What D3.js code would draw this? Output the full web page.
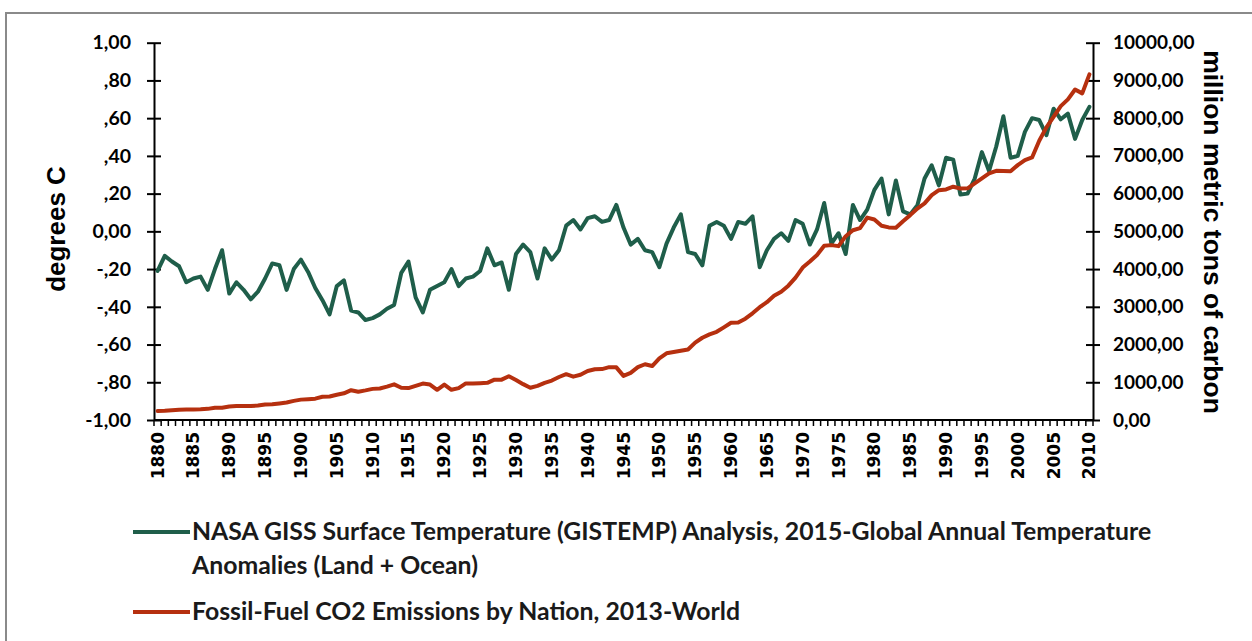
<!DOCTYPE html>
<html>
<head>
<meta charset="utf-8">
<script src="https://cdn.jsdelivr.net/npm/d3@7"></script>
<style>
  html, body { margin: 0; padding: 0; background: #fff; }
  svg { display: block; }
</style>
</head>
<body>
<svg id="chart" width="1252" height="641"></svg>
<script>
// ---------- DATA ----------
const firstYear = 1880;
const lastYear = 2010;
const years = d3.range(firstYear, lastYear + 1);

// NASA GISS annual temperature anomalies (°C), 1880..2010
const tempAnomaly = [
  -0.21, -0.13, -0.16, -0.185, -0.27, -0.25, -0.24, -0.31, -0.20, -0.10,
  -0.33, -0.27, -0.31, -0.36, -0.32, -0.25, -0.17, -0.18, -0.31, -0.20,
  -0.15, -0.215, -0.30, -0.365, -0.44, -0.29, -0.26, -0.42, -0.43, -0.47,
  -0.46, -0.44, -0.41, -0.39, -0.22, -0.16, -0.35, -0.43, -0.31, -0.29,
  -0.27, -0.20, -0.29, -0.25, -0.24, -0.21, -0.09, -0.18, -0.165, -0.31,
  -0.12, -0.07, -0.11, -0.25, -0.09, -0.15, -0.10, 0.03, 0.06, 0.01,
  0.07, 0.08, 0.05, 0.06, 0.14, 0.02, -0.07, -0.04, -0.10, -0.11,
  -0.19, -0.065, 0.02, 0.09, -0.11, -0.12, -0.18, 0.03, 0.05, 0.03,
  -0.04, 0.05, 0.04, 0.08, -0.19, -0.10, -0.04, -0.01, -0.05, 0.06,
  0.04, -0.07, 0.01, 0.15, -0.065, -0.01, -0.12, 0.14, 0.06, 0.115,
  0.22, 0.28, 0.09, 0.27, 0.106, 0.09, 0.138, 0.28, 0.35, 0.244,
  0.39, 0.38, 0.195, 0.20, 0.28, 0.42, 0.32, 0.45, 0.61, 0.39,
  0.40, 0.527, 0.60, 0.59, 0.51, 0.65, 0.594, 0.624, 0.49, 0.59, 0.66
];

// Fossil-fuel CO2 emissions, world (million metric tons of carbon), 1880..2010
const co2Emissions = [
  238, 243, 256, 272, 275, 280, 283, 295, 327, 327,
  360, 372, 374, 370, 383, 410, 419, 440, 465, 507,
  540, 552, 566, 617, 624, 670, 707, 790, 750, 785,
  825, 836, 885, 945, 855, 845, 905, 965, 940, 800,
  940, 800, 845, 970, 965, 975, 985, 1070, 1070, 1160,
  1058, 950, 855, 905, 985, 1045, 1140, 1215, 1148, 1198,
  1300, 1345, 1350, 1400, 1395, 1170, 1250, 1400, 1478, 1430,
  1634, 1767, 1800, 1835, 1868, 2050, 2180, 2270, 2338, 2456,
  2578, 2582, 2686, 2828, 2990, 3122, 3292, 3398, 3560, 3775,
  4040, 4200, 4374, 4617, 4635, 4608, 4872, 5030, 5085, 5365,
  5315, 5148, 5104, 5095, 5270, 5430, 5605, 5740, 5960, 6092,
  6112, 6183, 6137, 6140, 6270, 6402, 6535, 6606, 6600, 6590,
  6755, 6890, 6958, 7400, 7755, 8035, 8318, 8498, 8760, 8657, 9160
];

const leftTickValues = [-1, -0.8, -0.6, -0.4, -0.2, 0, 0.2, 0.4, 0.6, 0.8, 1];
const leftTickLabels = ["-1,00", "-,80", "-,60", "-,40", "-,20", "0,00", ",20", ",40", ",60", ",80", "1,00"];
const rightTickValues = [0, 1000, 2000, 3000, 4000, 5000, 6000, 7000, 8000, 9000, 10000];
const rightTickLabels = ["0,00", "1000,00", "2000,00", "3000,00", "4000,00", "5000,00",
                         "6000,00", "7000,00", "8000,00", "9000,00", "10000,00"];
const xLabelYears = [1880, 1885, 1890, 1895, 1900, 1905, 1910, 1915, 1920, 1925, 1930, 1935,
                     1940, 1945, 1950, 1955, 1960, 1965, 1970, 1975, 1980, 1985, 1990, 1995,
                     2000, 2005, 2010];

const leftTitle = "degrees C";
const rightTitle = "million metric tons of carbon";
const legendTempLines = ["NASA GISS Surface Temperature (GISTEMP) Analysis, 2015-Global Annual Temperature",
                         "Anomalies (Land + Ocean)"];
const legendCo2Line = "Fossil-Fuel CO2 Emissions by Nation, 2013-World";

// ---------- STYLE ----------
const GREEN = "#1f5e4a";
const RED = "#b6300f";
const plot = { left: 154, right: 1093, top: 42.7, bottom: 420 };

const svg = d3.select("#chart");

// outer frame
svg.append("rect")
  .attr("x", 6).attr("y", 13)
  .attr("width", 1260).attr("height", 660)
  .attr("fill", "none").attr("stroke", "#8a8a8a").attr("stroke-width", 2);

// ---------- SCALES ----------
const x = d3.scaleBand().domain(years).range([plot.left, plot.right]).paddingInner(0).paddingOuter(0);
const xc = d => x(d) + x.bandwidth() / 2;
const yL = d3.scaleLinear().domain([-1, 1]).range([plot.bottom, plot.top]);
const yR = d3.scaleLinear().domain([0, 10000]).range([plot.bottom, plot.top]);

// ---------- AXES ----------
const tickFont = "Lato, 'Liberation Sans', sans-serif";

// left axis
const leftAxis = d3.axisLeft(yL).tickValues(leftTickValues)
  .tickFormat((d, i) => leftTickLabels[i]).tickSize(0).tickPadding(23);
const gL = svg.append("g").attr("transform", `translate(${plot.left},0)`).call(leftAxis);
gL.select(".domain").attr("stroke", "#000").attr("stroke-width", 2);
gL.selectAll(".tick").append("line").attr("x1", -7).attr("x2", 7).attr("stroke", "#000").attr("stroke-width", 2);
gL.selectAll(".tick text").attr("font-family", tickFont).attr("font-weight", "bold")
  .attr("font-size", 19.5).attr("fill", "#000");

// right axis
const rightAxis = d3.axisRight(yR).tickValues(rightTickValues)
  .tickFormat((d, i) => rightTickLabels[i]).tickSize(0).tickPadding(20);
const gR = svg.append("g").attr("transform", `translate(${plot.right},0)`).call(rightAxis);
gR.select(".domain").attr("stroke", "#000").attr("stroke-width", 2);
gR.selectAll(".tick").append("line").attr("x1", -7).attr("x2", 7).attr("stroke", "#000").attr("stroke-width", 2);
gR.selectAll(".tick text").attr("font-family", tickFont).attr("font-weight", "bold")
  .attr("font-size", 19).attr("fill", "#000");

// bottom axis line
svg.append("line").attr("x1", plot.left).attr("x2", plot.right)
  .attr("y1", plot.bottom).attr("y2", plot.bottom)
  .attr("stroke", "#000").attr("stroke-width", 2);

// minor ticks between categories
const boundaries = years.map(d => x(d)).concat([x(lastYear) + x.bandwidth()]);
svg.append("g").selectAll("line").data(boundaries).join("line")
  .attr("x1", d => d).attr("x2", d => d)
  .attr("y1", plot.bottom).attr("y2", plot.bottom + 6)
  .attr("stroke", "#000").attr("stroke-width", 1.5);

// x labels
svg.append("g").selectAll("text").data(xLabelYears).join("text")
  .attr("transform", d => `translate(${xc(d)},${plot.bottom + 12}) rotate(-90)`)
  .attr("text-anchor", "end").attr("dominant-baseline", "central")
  .attr("font-family", "'DejaVu Sans', sans-serif").attr("font-weight", "bold")
  .attr("font-size", 17).attr("fill", "#000")
  .text(d => d);

// axis titles
svg.append("text")
  .attr("transform", "translate(65,229) rotate(-90)")
  .attr("text-anchor", "middle")
  .attr("font-family", "'Liberation Sans', Arial, sans-serif").attr("font-weight", "bold")
  .attr("font-size", 26).attr("fill", "#000")
  .text(leftTitle);

svg.append("text")
  .attr("transform", "translate(1204,232) rotate(90)")
  .attr("text-anchor", "middle")
  .attr("font-family", "'Liberation Sans', Arial, sans-serif").attr("font-weight", "bold")
  .attr("font-size", 26.5).attr("fill", "#000")
  .text(rightTitle);

// ---------- LINES ----------
const tempLine = d3.line().x((d, i) => xc(years[i])).y(d => yL(d));
const co2Line = d3.line().x((d, i) => xc(years[i])).y(d => yR(d));

svg.append("path").datum(tempAnomaly)
  .attr("d", tempLine).attr("fill", "none")
  .attr("stroke", GREEN).attr("stroke-width", 4).attr("stroke-linejoin", "round").attr("stroke-linecap", "round");

svg.append("path").datum(co2Emissions)
  .attr("d", co2Line).attr("fill", "none")
  .attr("stroke", RED).attr("stroke-width", 4).attr("stroke-linejoin", "round").attr("stroke-linecap", "round");

// ---------- LEGEND ----------
const legendFont = "Lato, 'Open Sans', sans-serif";
const lg = svg.append("g");
lg.append("line").attr("x1", 133).attr("x2", 190).attr("y1", 532).attr("y2", 532)
  .attr("stroke", GREEN).attr("stroke-width", 4);
lg.append("line").attr("x1", 133).attr("x2", 190).attr("y1", 612).attr("y2", 612)
  .attr("stroke", RED).attr("stroke-width", 4);
const legendTexts = [
  { t: legendTempLines[0], y: 540 },
  { t: legendTempLines[1], y: 574 },
  { t: legendCo2Line, y: 620 }
];
lg.selectAll("text").data(legendTexts).join("text")
  .attr("x", 192).attr("y", d => d.y)
  .attr("font-family", legendFont).attr("font-weight", "bold")
  .attr("font-size", 24.8).attr("fill", "#1a1a1a")
  .text(d => d.t);
</script>
</body>
</html>
